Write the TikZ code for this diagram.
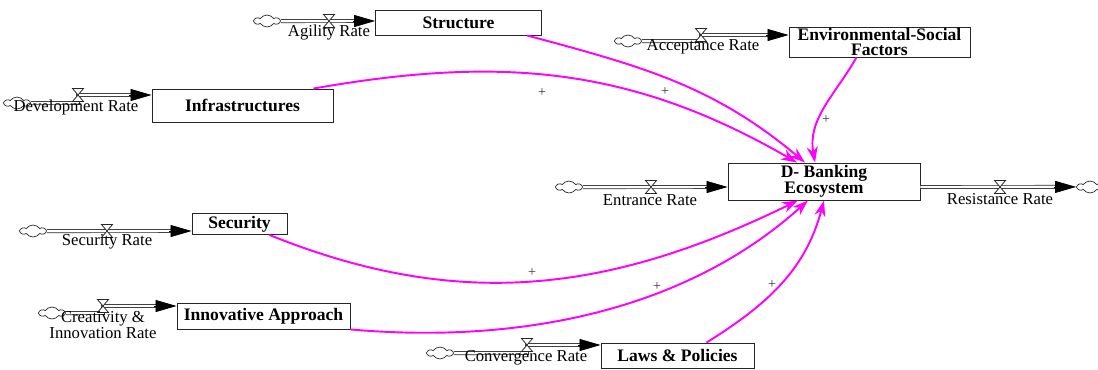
\documentclass[tikz,border=0pt]{standalone}
\usepackage{fontspec}
\setmainfont{Liberation Serif}
\usetikzlibrary{positioning}
\usetikzlibrary{shapes.symbols}
\usetikzlibrary{arrows.meta}

\definecolor{linkpink}{RGB}{255,0,255}

\tikzset{
	stock/.style = {draw = black!85, line width = 0.5pt, inner sep = 0pt, align = center, font = \fontsize{10}{9}\selectfont\bfseries},
	rate/.style = {align = center, font = \fontsize{9.5}{8.6}\selectfont, inner sep = 0pt},
	source/.style = {cloud, cloud puffs = 6, cloud puff arc = 110, aspect = 2.2, draw = black!85, line width = 0.4pt, minimum width = 0.5cm, minimum height = 0.24cm, inner sep = 0pt},
	pipe/.style = {draw = black!85, double, double distance = 1.4pt, line width = 0.4pt},
	pipetip/.style = {black, -{Triangle[length = 0.42cm, width = 0.24cm]}},
	link/.style = {linkpink, line width = 1.1pt, -{Stealth[length = 0.32cm, width = 0.22cm]}},
	sign/.style = {font = \footnotesize, text = black!80, inner sep = 0pt},
	valve/.pic = {\draw [black!85, line width = 0.45pt, fill = white] (-5.5, -6.5) -- (5.5, -6.5) -- (-5.5, 6.5) -- (5.5, 6.5) -- cycle;}
}

\begin{document}
\begin{tikzpicture}[x = 0.02cm, y = -0.02cm]
	\useasboundingbox (0, 0) rectangle (1098, 369);
	% stocks
	\node [stock, minimum width = 3.32cm, minimum height = 0.5cm] (structure) at (458.5, 22.5) {Structure};
	\node [stock, minimum width = 3.62cm, minimum height = 0.66cm] (infra) at (242.5, 105.5) {Infrastructures};
	\node [stock, minimum width = 3.62cm, minimum height = 0.6cm] (env) at (879.5, 42) {Environmental-Social\\Factors};
	\node [stock, minimum width = 3.84cm, minimum height = 0.74cm] (bank) at (824, 181.5) {D- Banking\\Ecosystem};
	\node [stock, minimum width = 1.9cm, minimum height = 0.42cm] (security) at (239.5, 224) {Security};
	\node [stock, minimum width = 3.46cm, minimum height = 0.52cm] (innov) at (263.5, 316) {Innovative Approach};
	\node [stock, minimum width = 3.06cm, minimum height = 0.5cm] (laws) at (677.5, 355.5) {Laws \& Policies};
	% clouds
	\node [source] (cAgility) at (267, 21) {};
	\node [source] (cDevelop) at (17, 103) {};
	\node [source] (cAccept) at (628, 41) {};
	\node [source] (cEntrance) at (569, 187) {};
	\node [source] (cResist) at (1090, 187) {};
	\node [source] (cSecurity) at (33, 231) {};
	\node [source] (cCreat) at (52, 313) {};
	\node [source] (cConverge) at (440, 353) {};
	% valves
	\coordinate (vAgility) at (329, 21);
	\coordinate (vDevelop) at (78, 95);
	\coordinate (vAccept) at (701, 35);
	\coordinate (vEntrance) at (651, 187);
	\coordinate (vResist) at (1000, 187);
	\coordinate (vSecurity) at (107, 231);
	\coordinate (vCreat) at (103, 306);
	\coordinate (vConverge) at (527, 345);
	% pipe ends
	\coordinate (eAgility) at (structure.west |- vAgility);
	\coordinate (eDevelop) at (infra.west |- vDevelop);
	\coordinate (eAccept) at (env.west |- vAccept);
	\coordinate (eEntrance) at (bank.west |- vEntrance);
	\coordinate (eResist) at (cResist.west);
	\coordinate (eSecurity) at (security.west |- vSecurity);
	\coordinate (eCreat) at (innov.west |- vCreat);
	\coordinate (eConverge) at (laws.west |- vConverge);
	% flows
	\draw [pipe] (cAgility.east) -- ([xshift = -0.3cm]eAgility);
	\draw [pipe] (cDevelop.east) -- (vDevelop |- cDevelop) -- (vDevelop) -- ([xshift = -0.3cm]eDevelop);
	\draw [pipe] (cAccept.east) -- (vAccept |- cAccept) -- (vAccept) -- ([xshift = -0.3cm]eAccept);
	\draw [pipe] (cEntrance.east) -- ([xshift = -0.3cm]eEntrance);
	\draw [pipe] (bank.east |- vResist) -- ([xshift = -0.3cm]eResist);
	\draw [pipe] (cSecurity.east) -- ([xshift = -0.3cm]eSecurity);
	\draw [pipe] (cCreat.east) -- (vCreat |- cCreat) -- (vCreat) -- ([xshift = -0.3cm]eCreat);
	\draw [pipe] (cConverge.east) -- (vConverge |- cConverge) -- (vConverge) -- ([xshift = -0.3cm]eConverge);
	\foreach \e in {eAgility, eDevelop, eAccept, eEntrance, eResist, eSecurity, eCreat, eConverge}
		\draw [pipetip] ([xshift = -0.45cm]\e) -- (\e);
	\foreach \v in {vAgility, vDevelop, vAccept, vEntrance, vResist, vSecurity, vCreat, vConverge}
		\pic at (\v) {valve};
	% rate labels
	\node [rate] (lAgility) at (329, 33) {Agility Rate};
	\node [rate] (lDevelop) at (76, 107) {Development Rate};
	\node [rate] (lAccept) at (703, 47) {Acceptance Rate};
	\node [rate] (lEntrance) at (650, 200) {Entrance Rate};
	\node [rate] (lResist) at (1000, 199) {Resistance Rate};
	\node [rate] (lSecurity) at (107, 242) {Security Rate};
	\node [rate] (lCreat) at (103, 325) {Creativity \&\\Innovation Rate};
	\node [rate] (lConverge) at (526, 358) {Convergence Rate};
	% links
	\draw [link] ([xshift = -0.4cm]infra.north east) to [out = 10, in = 150] ([xshift = -0.54cm]bank.north);
	\draw [link] ([xshift = -0.3cm]structure.south east) to [out = -15, in = 140] ([xshift = -0.38cm]bank.north);
	\draw [link] ([xshift = -0.46cm]env.south) to [out = 240, in = 100] ([xshift = -0.18cm]bank.north);
	\draw [link] ([xshift = -0.36cm]security.south east) to [out = -22, in = 206] ([xshift = -0.52cm]bank.south);
	\draw [link] (innov.south east) to [out = -5, in = 222, looseness = 0.9] ([xshift = -0.32cm]bank.south);
	\draw [link] ([xshift = 0.58cm]laws.north) to [out = 32, in = 255] (bank.south);
	% polarities
	\node [sign] (pInfra) at (542, 93) {+};
	\node [sign] (pStructure) at (665, 92) {+};
	\node [sign] (pEnv) at (826, 120) {+};
	\node [sign] (pSecurity) at (532, 273) {+};
	\node [sign] (pInnov) at (657, 287) {+};
	\node [sign] (pLaws) at (772, 285) {+};
\end{tikzpicture}
\end{document}
